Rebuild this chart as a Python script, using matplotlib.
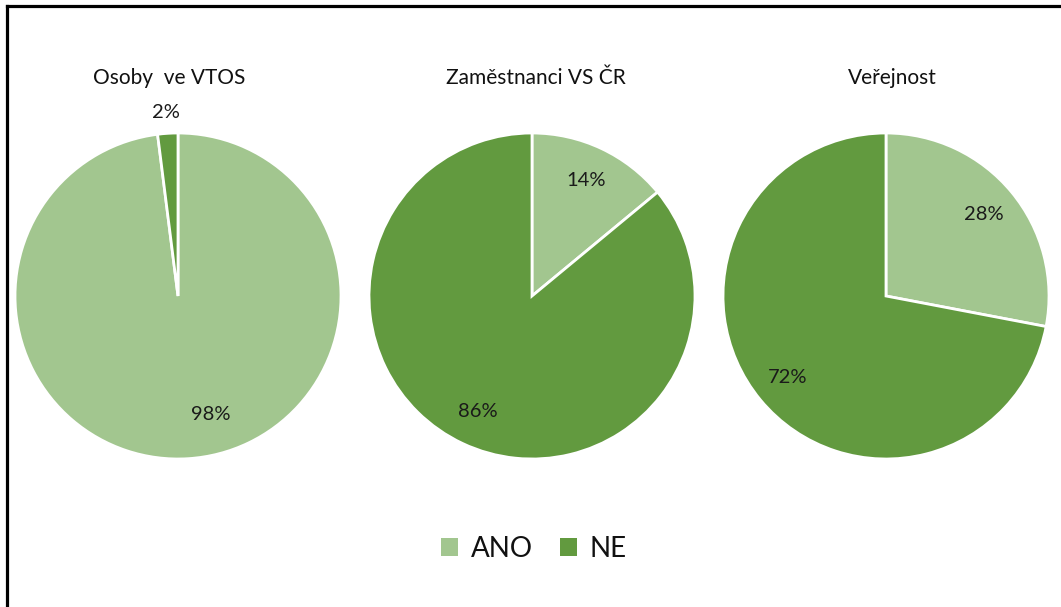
import numpy as np
import matplotlib.pyplot as plt
from matplotlib.lines import Line2D
from matplotlib.patches import Patch

plt.rcParams['font.family'] = ['Lato', 'DejaVu Sans']

groups = ['Osoby  ve VTOS', 'Zaměstnanci VS ČR', 'Veřejnost']
answers = ['ANO', 'NE']
ano = [98, 14, 28]
ne = [2, 86, 72]
colors = ['#A2C68F', '#629A3F']

W, H = 1061, 607
fig = plt.figure(figsize=(W / 100, H / 100), dpi=100)

centers_x = [178, 532, 886]
cy = 296
r = 163
title_x = [169, 536, 892]

for i in range(3):
    size = 2.5 * r
    ax = fig.add_axes([(centers_x[i] - size / 2) / W, (H - cy - size / 2) / H,
                       size / W, size / H])
    vals = [ano[i], ne[i]]
    ax.pie(vals, colors=colors, startangle=90, counterclock=False,
           wedgeprops=dict(edgecolor='white', linewidth=2))
    # percent labels
    start = 90.0
    for j, v in enumerate(vals):
        mid = start - v / 100 * 360 / 2
        start -= v / 100 * 360
        d = 1.13 if v < 5 else 0.78
        ax.text(d * np.cos(np.radians(mid)) + (0.15 if v > 95 else 0),
                d * np.sin(np.radians(mid)) + (0.05 if v > 95 else 0), f'{v}%',
                ha='center', va='center', fontsize=14.5, color='#1a1a1a')
    ax.set_xlim(-1.25, 1.25)
    ax.set_ylim(-1.25, 1.25)
    fig.text(title_x[i] / W, 1 - 78 / H, groups[i], ha='center', va='center',
             fontsize=15, color='#111111')

handles = [Patch(facecolor=c, edgecolor='none') for c in colors]
fig.legend(handles, answers, loc='center', bbox_to_anchor=(534 / W, 1 - 549 / H),
           ncol=2, frameon=False, fontsize=20, handlelength=0.6, handleheight=0.6,
           handletextpad=0.45, columnspacing=1.0, labelcolor='#111111')

# border of the original frame
fig.add_artist(Line2D([7 / W, 7 / W], [0, 1 - 6 / H], color='black', lw=2.3))
fig.add_artist(Line2D([7 / W, 1], [1 - 6 / H, 1 - 6 / H], color='black', lw=2.3))

fig.savefig('out.png', dpi=100)
